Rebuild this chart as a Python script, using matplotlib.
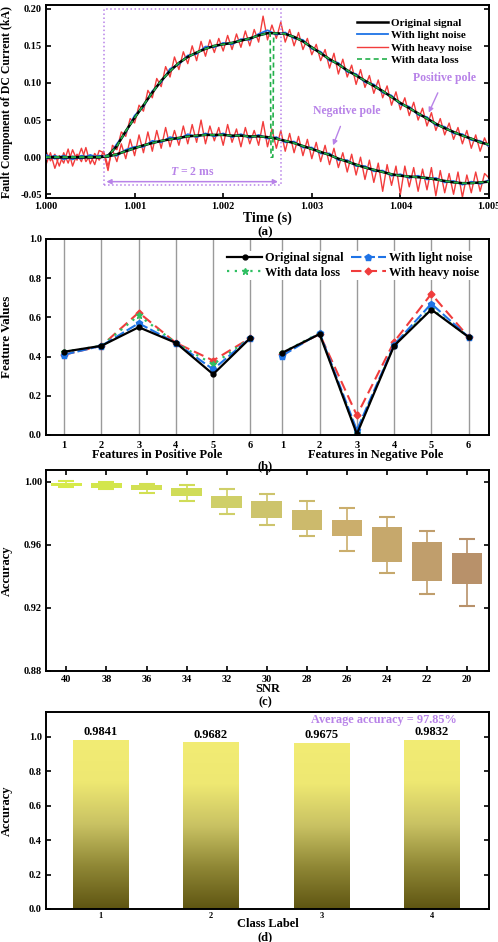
import numpy as np
import matplotlib
matplotlib.use('Agg')
import matplotlib.pyplot as plt
from matplotlib.patches import Rectangle
from matplotlib.colors import LinearSegmentedColormap

plt.rcParams['font.family'] = ['Liberation Serif', 'DejaVu Serif']
plt.rcParams['font.weight'] = 'bold'
plt.rcParams['axes.labelweight'] = 'bold'
plt.rcParams['mathtext.fontset'] = 'custom'
plt.rcParams['mathtext.it'] = 'Liberation Serif:italic:bold'
plt.rcParams['mathtext.rm'] = 'Liberation Serif:bold'

# ---------------- (a) DC current fault component ----------------
t_start, t_end = 1.000, 1.005
pos_orig = [0.000, 0.000, 0.000, 0.000, 0.000, 0.000, 0.000, 0.002, 0.015, 0.035,
            0.053, 0.070, 0.087, 0.103, 0.116, 0.127, 0.135, 0.141, 0.146, 0.150,
            0.152, 0.154, 0.157, 0.160, 0.164, 0.167, 0.167, 0.166, 0.162, 0.156,
            0.148, 0.140, 0.132, 0.125, 0.117, 0.110, 0.103, 0.096, 0.089, 0.081,
            0.073, 0.066, 0.059, 0.052, 0.045, 0.039, 0.034, 0.029, 0.025, 0.020,
            0.017]
neg_orig = [0.000, 0.000, 0.000, 0.000, 0.000, 0.000, 0.000, 0.001, 0.004, 0.008,
            0.012, 0.016, 0.019, 0.022, 0.024, 0.026, 0.028, 0.029, 0.030, 0.030,
            0.030, 0.029, 0.029, 0.028, 0.028, 0.027, 0.025, 0.022, 0.019, 0.015,
            0.011, 0.007, 0.003, -0.002, -0.006, -0.010, -0.014, -0.017, -0.020, -0.023,
            -0.025, -0.026, -0.027, -0.028, -0.030, -0.032, -0.034, -0.035, -0.035, -0.034,
            -0.033]
pos_light = [0.003, -0.002, 0.002, -0.003, 0.002, -0.001, 0.002, 0.000, 0.018, 0.033,
             0.056, 0.068, 0.089, 0.101, 0.119, 0.125, 0.137, 0.139, 0.149, 0.148,
             0.154, 0.152, 0.159, 0.158, 0.166, 0.171, 0.165, 0.168, 0.160, 0.158,
             0.146, 0.142, 0.130, 0.127, 0.115, 0.112, 0.101, 0.098, 0.087, 0.083,
             0.071, 0.068, 0.057, 0.054, 0.043, 0.041, 0.032, 0.031, 0.023, 0.022,
             0.015]
neg_light = [-0.002, 0.002, -0.003, 0.001, -0.002, 0.003, -0.001, 0.003, 0.002, 0.010,
             0.014, 0.014, 0.022, 0.020, 0.027, 0.024, 0.031, 0.027, 0.032, 0.028,
             0.032, 0.027, 0.031, 0.026, 0.030, 0.025, 0.027, 0.020, 0.021, 0.013,
             0.013, 0.005, 0.005, -0.004, -0.004, -0.012, -0.012, -0.019, -0.018, -0.025,
             -0.023, -0.028, -0.025, -0.030, -0.028, -0.034, -0.032, -0.037, -0.033, -0.036,
             -0.031]
pos_heavy = [0.008, -0.005, 0.004, -0.012, 0.006, -0.008, 0.010, -0.004, 0.012, -0.006,
             0.003, -0.010, 0.009, 0.006, -0.018, 0.016, 0.010, 0.034, 0.028, 0.052,
             0.046, 0.070, 0.062, 0.090, 0.080, 0.106, 0.095, 0.122, 0.108, 0.135,
             0.118, 0.142, 0.126, 0.150, 0.130, 0.156, 0.136, 0.158, 0.141, 0.160,
             0.143, 0.164, 0.145, 0.166, 0.148, 0.170, 0.150, 0.172, 0.155, 0.190,
             0.158, 0.178, 0.160, 0.182, 0.155, 0.172, 0.150, 0.168, 0.145, 0.160,
             0.138, 0.152, 0.130, 0.145, 0.120, 0.140, 0.112, 0.132, 0.108, 0.124,
             0.098, 0.118, 0.094, 0.110, 0.086, 0.104, 0.080, 0.096, 0.070, 0.088,
             0.064, 0.080, 0.056, 0.074, 0.050, 0.066, 0.042, 0.060, 0.036, 0.052,
             0.030, 0.046, 0.024, 0.040, 0.018, 0.036, 0.012, 0.030, 0.008, 0.026,
             0.012]
neg_heavy = [-0.010, 0.006, -0.015, 0.002, -0.008, 0.011, -0.012, 0.004, -0.006, 0.013,
             -0.009, 0.005, -0.004, 0.008, -0.012, 0.010, -0.006, 0.018, -0.002, 0.024,
             0.002, 0.030, 0.006, 0.034, 0.008, 0.036, 0.012, 0.040, 0.014, 0.036,
             0.016, 0.042, 0.018, 0.044, 0.020, 0.050, 0.018, 0.042, 0.022, 0.040,
             0.016, 0.044, 0.020, 0.038, 0.014, 0.040, 0.018, 0.036, 0.016, 0.048,
             0.014, 0.038, 0.012, 0.036, 0.008, 0.032, 0.006, 0.028, 0.002, 0.024,
             -0.002, 0.020, -0.006, 0.016, -0.010, 0.012, -0.014, 0.006, -0.020, 0.004,
             -0.024, 0.000, -0.030, -0.004, -0.034, -0.008, -0.046, -0.010, -0.038, -0.012,
             -0.050, -0.012, -0.040, -0.014, -0.046, -0.016, -0.044, -0.014, -0.052, -0.018,
             -0.048, -0.022, -0.050, -0.020, -0.054, -0.024, -0.048, -0.020, -0.046, -0.022,
             -0.028]
# samples lost in the positive pole signal
loss_t = [1.00253, 1.00254, 1.00256, 1.00257]
loss_v = [0.167, 0.000, 0.000, 0.167]

# ---------------- (b) feature values ----------------
feature_labels = ['1', '2', '3', '4', '5', '6']
feat_pos = {
    'Original signal': [0.425, 0.455, 0.550, 0.470, 0.310, 0.495],
    'With data loss': [0.425, 0.455, 0.610, 0.470, 0.360, 0.495],
    'With light noise': [0.410, 0.455, 0.570, 0.470, 0.335, 0.495],
    'With heavy noise': [0.410, 0.455, 0.625, 0.470, 0.380, 0.495],
}
feat_neg = {
    'Original signal': [0.420, 0.515, 0.005, 0.455, 0.640, 0.500],
    'With data loss': [0.420, 0.520, 0.010, 0.460, 0.645, 0.500],
    'With light noise': [0.405, 0.520, 0.025, 0.460, 0.670, 0.500],
    'With heavy noise': [0.415, 0.515, 0.100, 0.475, 0.720, 0.500],
}

# ---------------- (c) accuracy vs SNR ----------------
snr = ['40', '38', '36', '34', '32', '30', '28', '26', '24', '22', '20']
whisk_hi = [1.0003, 1.0002, 0.9989, 0.9983, 0.9953, 0.9922, 0.9879, 0.9837, 0.9776, 0.9687, 0.9638]
box_hi = [0.9993, 0.9994, 0.9979, 0.9958, 0.9909, 0.9879, 0.9820, 0.9757, 0.9714, 0.9621, 0.9547]
box_lo = [0.9975, 0.9962, 0.9947, 0.9911, 0.9831, 0.9771, 0.9697, 0.9657, 0.9492, 0.9371, 0.9350]
whisk_lo = [0.9965, 0.9955, 0.9932, 0.9877, 0.9795, 0.9725, 0.9657, 0.9564, 0.9422, 0.9287, 0.9211]
box_colors = ['#d6ea4a', '#d3e64c', '#d2e052', '#d0dc58', '#cfcf68', '#cdc46c',
              '#ccba6c', '#cbae6c', '#c6a86c', '#c09e6c', '#b8916a']

# ---------------- (d) per-class accuracy ----------------
classes = ['1', '2', '3', '4']
class_acc = [0.9841, 0.9682, 0.9675, 0.9832]
avg_acc = 97.85

purple = '#b883e8'
W, H = 498, 942
fig = plt.figure(figsize=(W / 100, H / 100), dpi=100)


def axes_px(left, top, right, bottom):
  return fig.add_axes([left / W, 1 - bottom / H, (right - left) / W, (bottom - top) / H])


def style(ax, size):
  for s in ax.spines.values():
    s.set_linewidth(1.4)
  ax.tick_params(direction='in', length=3.5, width=1.2, labelsize=size, pad=3)
  for lab in ax.get_xticklabels() + ax.get_yticklabels():
    lab.set_fontweight('bold')


# ---- (a)
ax = axes_px(46, 5, 489, 198)
t = np.linspace(t_start, t_end, len(pos_orig))
th = np.linspace(t_start, t_end, len(pos_heavy))
tl = np.concatenate([t, loss_t])
order = np.argsort(tl)
loss_pos = np.concatenate([pos_orig, loss_v])[order]
ax.plot(th, pos_heavy, color='#f23c3c', lw=1.0, label='With heavy noise', zorder=2)
ax.plot(th, neg_heavy, color='#f23c3c', lw=1.0, zorder=2)
ax.plot(t, pos_light, color='#1e73e6', lw=1.3, label='With light noise', zorder=3)
ax.plot(t, neg_light, color='#1e73e6', lw=1.3, zorder=3)
ax.plot(t, pos_orig, color='black', lw=1.8, label='Original signal', zorder=4)
ax.plot(t, neg_orig, color='black', lw=1.8, zorder=4)
ax.plot(tl[order], loss_pos, color='#22b04a', lw=1.2, ls=(0, (3, 2)), label='With data loss', zorder=5)
ax.plot(t, neg_orig, color='#22b04a', lw=1.2, ls=(0, (3, 2)), zorder=5)
h, l = ax.get_legend_handles_labels()
idx = [l.index(n) for n in ['Original signal', 'With light noise', 'With heavy noise', 'With data loss']]
ax.legend([h[i] for i in idx], [l[i] for i in idx], loc='upper right', frameon=False,
          handlelength=2.8, handletextpad=0.3, labelspacing=0.25,
          bbox_to_anchor=(0.985, 0.985), prop={'weight': 'bold', 'size': 8})
ax.add_patch(Rectangle((1.00065, -0.038), 0.002, 0.238, fill=False, ec=purple, lw=1.1, ls=':', zorder=6))
ax.annotate('', xy=(1.00065, -0.033), xytext=(1.00265, -0.033),
            arrowprops=dict(arrowstyle='<|-|>', color=purple, lw=1.1, mutation_scale=7))
ax.text(1.00165, -0.020, r'$T$ = 2 ms', color=purple, ha='center', va='center', fontsize=8.5, fontweight='bold')
ax.annotate('Positive pole', xy=(1.00432, 0.060), xytext=(1.0045, 0.107), color=purple,
            fontsize=8.5, fontweight='bold', ha='center', va='center',
            arrowprops=dict(arrowstyle='-|>', color=purple, lw=1.0, mutation_scale=7, shrinkA=5, shrinkB=0))
ax.annotate('Negative pole', xy=(1.00324, 0.016), xytext=(1.00339, 0.062), color=purple,
            fontsize=8.5, fontweight='bold', ha='center', va='center',
            arrowprops=dict(arrowstyle='-|>', color=purple, lw=1.0, mutation_scale=7, shrinkA=5, shrinkB=0))
ax.set_xlim(t_start, t_end)
ax.set_ylim(-0.055, 0.205)
ax.set_xticks(np.arange(1.000, 1.0051, 0.001))
ax.set_yticks(np.arange(-0.05, 0.201, 0.05))
ax.xaxis.set_major_formatter(matplotlib.ticker.FormatStrFormatter('%.3f'))
ax.yaxis.set_major_formatter(matplotlib.ticker.FormatStrFormatter('%.2f'))
ax.tick_params(right=True)
style(ax, 7.5)
ax.set_ylabel('Fault Component of DC Current (kA)', fontsize=8.5)
ax.yaxis.set_label_coords(-0.075, 0.5)
ax.set_xlabel('Time (s)', fontsize=10, labelpad=0)
fig.text(265 / W, 1 - 232 / H, '(a)', ha='center', va='center', fontsize=9.5, fontweight='bold')

# ---- (b)
ax = axes_px(46, 239, 489, 435)
xp = np.arange(1, 7)
xn = np.arange(1, 7) + 5.86
for x in np.concatenate([xp, xn]):
  ax.axvline(x, color='#9a9a9a', lw=1.0, zorder=0)
styles = {
    'Original signal': dict(color='black', ls='-', marker='o', ms=3.5, lw=1.6),
    'With light noise': dict(color='#1e73e6', ls=(0, (5, 1.5)), marker='p', ms=5, lw=1.5),
    'With data loss': dict(color='#2fbf62', ls=(0, (1, 2.5)), marker='*', ms=5, lw=1.6),
    'With heavy noise': dict(color='#f03c3c', ls=(0, (5, 2.5)), marker='D', ms=3.5, lw=1.5),
}
draw_order = ['With heavy noise', 'With data loss', 'With light noise', 'Original signal']
zs = {'With heavy noise': 2, 'With data loss': 3, 'With light noise': 4, 'Original signal': 5}
lines = {}
for name in draw_order:
  lines[name], = ax.plot(xp, feat_pos[name], zorder=zs[name], label=name, **styles[name])
  ax.plot(xn, feat_neg[name], zorder=zs[name], **styles[name])
leg_names = ['Original signal', 'With data loss', 'With light noise', 'With heavy noise']
leg = ax.legend([lines[n] for n in leg_names], leg_names, ncol=2, loc='upper right',
                bbox_to_anchor=(0.995, 0.97), frameon=True, fancybox=False, edgecolor='none',
                framealpha=1, prop={'weight': 'bold', 'size': 8.8}, handlelength=2.8,
                handletextpad=0.3, columnspacing=0.6, labelspacing=0.2, borderpad=0.1)
leg.set_zorder(10)
ax.set_xlim(0.51, 12.41)
ax.set_ylim(0, 1.0)
ax.set_xticks(np.concatenate([xp, xn]))
ax.set_xticklabels(feature_labels + feature_labels)
ax.set_yticks(np.arange(0, 1.01, 0.2))
ax.yaxis.set_major_formatter(matplotlib.ticker.FormatStrFormatter('%.1f'))
style(ax, 7.5)
ax.tick_params(axis='x', length=0, pad=4)
ax.set_ylabel('Feature Values', fontsize=9.4)
ax.yaxis.set_label_coords(-0.075, 0.5)
ax.text(3.5, -0.103, 'Features in Positive Pole', ha='center', va='center', fontsize=9, fontweight='bold')
ax.text(9.36, -0.103, 'Features in Negative Pole', ha='center', va='center', fontsize=9, fontweight='bold')
fig.text(265 / W, 1 - 466 / H, '(b)', ha='center', va='center', fontsize=9, fontweight='bold')

# ---- (c)
ax = axes_px(46, 470, 489, 671)
xs = np.arange(1, len(snr) + 1)
heights = np.array(box_hi) - np.array(box_lo)
ax.bar(xs, heights, bottom=box_lo, width=0.76, color=box_colors, edgecolor='none', zorder=2)
ax.vlines(xs, box_hi, whisk_hi, colors=box_colors, lw=1.2, zorder=1)
ax.vlines(xs, whisk_lo, box_lo, colors=box_colors, lw=1.2, zorder=1)
ax.hlines(whisk_hi, xs - 0.2, xs + 0.2, colors=box_colors, lw=1.5)
ax.hlines(whisk_lo, xs - 0.2, xs + 0.2, colors=box_colors, lw=1.5)
ax.set_xlim(0.49, 11.55)
ax.set_ylim(0.88, 1.0075)
ax.set_xticks(xs)
ax.set_xticklabels(snr)
ax.set_yticks([0.88, 0.92, 0.96, 1.00])
ax.yaxis.set_major_formatter(matplotlib.ticker.FormatStrFormatter('%.2f'))
ax.tick_params(top=True, right=True)
style(ax, 7.5)
ax.set_ylabel('Accuracy', fontsize=9)
ax.yaxis.set_label_coords(-0.075, 0.5)
ax.set_xlabel('SNR', fontsize=9, labelpad=-1)
fig.text(265 / W, 1 - 702 / H, '(c)', ha='center', va='center', fontsize=9, fontweight='bold')

# ---- (d)
ax = axes_px(46, 712, 489, 909)
xc = np.arange(1, len(classes) + 1)
bars = ax.bar(xc, class_acc, width=0.5, color='none', edgecolor='none')
cmap = LinearSegmentedColormap.from_list('olive', ['#5f5512', '#8f8735', '#c9c263', '#eee872', '#f2ec74'])
grad = np.linspace(0, 1, 256).reshape(-1, 1)
for b, v in zip(bars, class_acc):
  x0 = b.get_x()
  im = ax.imshow(grad, cmap=cmap, origin='lower', aspect='auto',
                 extent=[x0, x0 + b.get_width(), 0, v], zorder=1)
  im.set_clip_path(b)
  ax.text(b.get_x() + b.get_width() / 2, v + 0.01, f'{v:.4f}', ha='center', va='bottom',
          fontsize=9, fontweight='bold')
ax.text(0.928, 0.96, f'Average accuracy = {avg_acc:.2f}%', transform=ax.transAxes, ha='right',
        va='center', color=purple, fontsize=8.8, fontweight='bold')
ax.set_xlim(0.505, 4.52)
ax.set_ylim(0, 1.145)
ax.set_xticks(xc)
ax.set_xticklabels(classes)
ax.set_yticks(np.arange(0, 1.01, 0.2))
ax.yaxis.set_major_formatter(matplotlib.ticker.FormatStrFormatter('%.1f'))
ax.tick_params(right=True)
style(ax, 7.5)
ax.tick_params(axis='x', labelsize=6, length=0, pad=2)
ax.set_ylabel('Accuracy', fontsize=9)
ax.yaxis.set_label_coords(-0.075, 0.5)
ax.text(0.5, -0.075, 'Class Label', transform=ax.transAxes, ha='center', va='center',
        fontsize=9, fontweight='bold')
fig.text(265 / W, 1 - 937 / H, '(d)', ha='center', va='center', fontsize=9, fontweight='bold')

fig.savefig('out.png', dpi=100)
